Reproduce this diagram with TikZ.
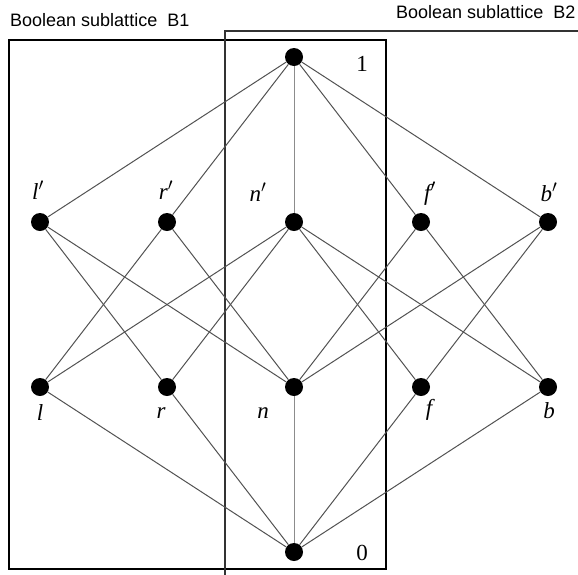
\documentclass[tikz,border=0pt]{standalone}
\usepackage{fontspec}
\setmainfont{Liberation Serif}
\newfontfamily\titlefont{Liberation Sans}
\begin{document}
\begin{tikzpicture}[x=1pt,y=-1pt,
  dot/.style={circle,fill=black,inner sep=0pt,minimum size=18pt},
  edge/.style={draw=black!68,line width=1pt},
  vedge/.style={draw=black!45,line width=1pt},
  lbl/.style={font=\fontsize{23}{23}\selectfont\itshape,inner sep=0pt},
  num/.style={font=\fontsize{23}{23}\selectfont,inner sep=0pt},
  ttl/.style={font=\fontsize{18}{18}\selectfont\titlefont,inner sep=0pt,anchor=base west},
  boxone/.style={draw=black,line width=2.2pt},
  boxtwo/.style={draw=black!80,line width=1.5pt}]
\useasboundingbox (0,0) rectangle (578,574);
\clip (0,0) rectangle (578,574);
% boxes
\draw[boxone] (9,40) rectangle (386,569);
\coordinate (btwoa) at (225,580);
\coordinate (btwob) at (225,31);
\coordinate (btwoc) at (590,31);
\draw[boxtwo] (btwoa) -- (btwob) -- (btwoc);
% titles
\node[ttl] (tone) at (10,26.7) {Boolean sublattice\ \ B1};
\node[ttl] (ttwo) at (396,18.5) {Boolean sublattice\ \ B2};
% nodes
\node[dot] (top) at (294,57) {};
\node[dot] (lp) at (40,222) {};
\node[dot] (rp) at (167,222) {};
\node[dot] (np) at (294,222) {};
\node[dot] (fp) at (421,222) {};
\node[dot] (bp) at (548,222) {};
\node[dot] (l) at (40,387) {};
\node[dot] (r) at (167,387) {};
\node[dot] (n) at (294,387) {};
\node[dot] (f) at (421,387) {};
\node[dot] (b) at (548,387) {};
\node[dot] (bot) at (294,552) {};
% labels
\node[num] (tlab) at (362,64) {1};
\node[num] (blab) at (362,553) {0};
\node[lbl] (lpl) at (38,190) {l$'$};
\node[lbl] (rpl) at (166,190) {r$'$};
\node[lbl] (npl) at (258,192) {n$'$};
\node[lbl] (fpl) at (430,194) {f$'$};
\node[lbl] (bpl) at (549,192) {b$'$};
\node[lbl] (ll) at (40,413) {l};
\node[lbl] (rl) at (161,413) {r};
\node[lbl] (nl) at (263,413) {n};
\node[lbl] (fl) at (429,410) {f};
\node[lbl] (bl) at (549,411) {b};
% edges
\draw[vedge] (top) -- (np);
\draw[vedge] (bot) -- (n);
\foreach \a in {lp,rp,fp,bp} \draw[edge] (top) -- (\a);
\foreach \a in {l,r,f,b} \draw[edge] (bot) -- (\a);
\draw[edge] (lp) -- (r);
\draw[edge] (lp) -- (n);
\draw[edge] (rp) -- (l);
\draw[edge] (rp) -- (n);
\draw[edge] (np) -- (l);
\draw[edge] (np) -- (r);
\draw[edge] (np) -- (f);
\draw[edge] (np) -- (b);
\draw[edge] (fp) -- (n);
\draw[edge] (fp) -- (b);
\draw[edge] (bp) -- (n);
\draw[edge] (bp) -- (f);
\end{tikzpicture}
\end{document}
